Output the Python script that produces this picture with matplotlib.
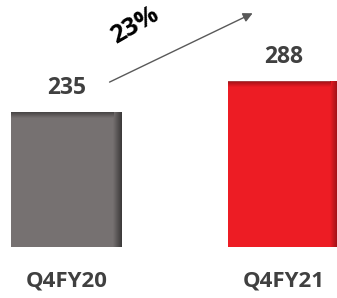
import numpy as np
import matplotlib.pyplot as plt
from matplotlib.colors import LinearSegmentedColormap

# data
categories = ['Q4FY20', 'Q4FY21']
values = [235, 288]
bar_colors = ['#767171', '#ED1C24']
shadow_colors = ['#3a3838', '#8a0f14']

growth = (values[1] - values[0]) / values[0] * 100

plt.rcParams['font.family'] = ['Open Sans', 'DejaVu Sans']

fig = plt.figure(figsize=(3.37, 2.98), dpi=100)
ax = fig.add_axes([0, 0, 1, 1])
x = np.arange(len(categories))
width = 0.51
bars = ax.bar(x, values, width=width, color=bar_colors, zorder=1)

ax.set_xlim(-0.306, 1.246)
ax.set_ylim(-88.8, 430)
ax.axis('off')

# inner shadow on top and right edges of each bar
for xi, v, c, sc in zip(x, values, bar_colors, shadow_colors):
    cmap = LinearSegmentedColormap.from_list('s', [c, sc])
    left, right = xi - width / 2, xi + width / 2
    sw = 0.04   # shadow width in x units
    sh = 10     # shadow height in y units
    grad = np.linspace(0, 1, 50).reshape(1, -1)
    # right edge
    ax.imshow(grad, cmap=cmap, aspect='auto', extent=[right - sw, right, 0, v],
              zorder=2, interpolation='bicubic')
    # top edge
    gt = np.linspace(0, 1, 50).reshape(-1, 1)
    ax.imshow(gt, cmap=cmap, aspect='auto', extent=[left, right - sw, v - sh, v],
              zorder=2, interpolation='bicubic', origin='lower', alpha=0.8)

# value labels
for xi, v in zip(x, values):
    ax.annotate(str(v), (xi, v), xytext=(0, 9), textcoords='offset points',
                ha='center', va='bottom', fontsize=16.5, fontweight='bold',
                color='#404040')

# category labels
for xi, cat in zip(x, categories):
    ax.text(xi, -60, cat, ha='center', va='center', fontsize=16,
            fontweight='bold', color='#404040')

# growth arrow
ax.annotate('', xy=(0.869, values[1] + 121), xytext=(0.187, values[0] + 50),
            arrowprops=dict(arrowstyle='-|>', color='#595959', lw=1,
                            mutation_scale=14))
ax.text(0.316, 385, f'{growth:.0f}%', ha='center', va='center', rotation=30,
        fontsize=18, fontweight='bold', color='black')

plt.savefig('out.png', dpi=100)
